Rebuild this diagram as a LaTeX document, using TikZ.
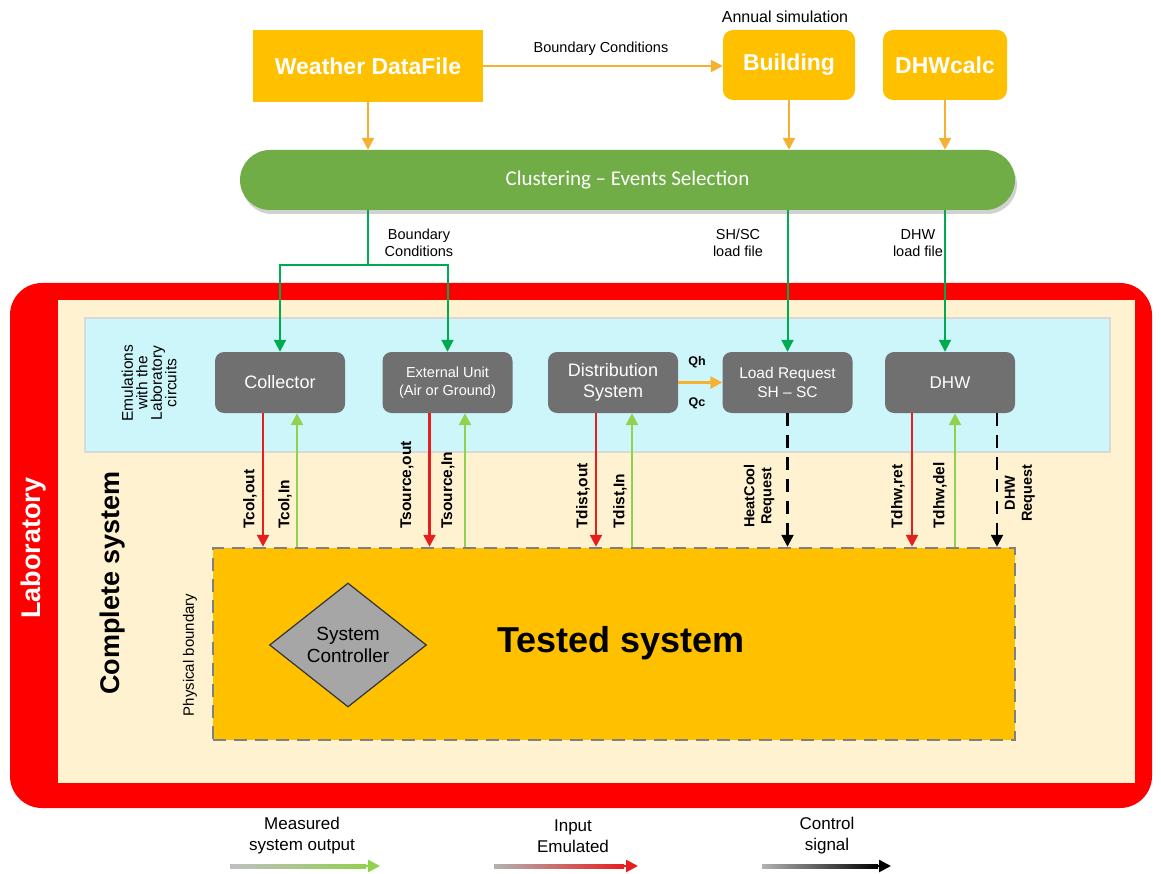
\documentclass[tikz,border=0pt]{standalone}
\usepackage{fontspec}
\setmainfont{Liberation Sans}
\newfontfamily\calib{Carlito}
\usetikzlibrary{arrows.meta,shapes.geometric,calc}
\definecolor{amber}{RGB}{255,192,0}
\definecolor{amberarr}{RGB}{245,178,50}
\definecolor{clgreen}{RGB}{112,173,71}
\definecolor{dgreen}{RGB}{0,170,80}
\definecolor{lgreen}{RGB}{146,208,80}
\definecolor{labred}{RGB}{255,0,0}
\definecolor{arrred}{RGB}{230,30,30}
\definecolor{cream}{RGB}{255,242,208}
\definecolor{lblue}{RGB}{204,246,250}
\definecolor{boxgrey}{RGB}{112,112,112}
\definecolor{ctrlgrey}{RGB}{166,166,166}
\newcommand{\fs}[2]{\fontsize{#1}{#2}\selectfont}
\tikzset{
  arrtip/.style={-{Triangle[length=12pt,width=12pt]}},
  topbox/.style={fill=amber, text=white, font=\bfseries\fontsize{23}{26}\selectfont, align=center, inner sep=0pt},
  gbox/.style={fill=boxgrey, rounded corners=9, minimum width=130, minimum height=61, text=white, align=center, inner sep=0pt},
  orarr/.style={arrtip, draw=amberarr, line width=2.5},
  garr/.style={arrtip, draw=dgreen, line width=2},
  redarr/.style={arrtip, draw=arrred, line width=2.5},
  lgarr/.style={arrtip, draw=lgreen, line width=2.5},
  ctlarr/.style={arrtip, draw=black, line width=2.5, dash pattern=on 13pt off 9pt},
  rlab/.style={rotate=90, anchor=west, font=\bfseries\fontsize{15.5}{17}\selectfont, inner sep=0pt},
  smallt/.style={font=\fontsize{14.5}{17}\selectfont, align=center}
}
\begin{document}
\begin{tikzpicture}[x=1pt,y=-1pt]
\useasboundingbox[fill=white] (0,0) rectangle (1161,874);

% top boxes
\node[topbox, minimum width=230, minimum height=72] (weather) at (368,66) {Weather DataFile};
\node[topbox, rounded corners=10, minimum width=132, minimum height=70] (building) at (789,65) {Building};
\node[topbox, rounded corners=10, minimum width=124, minimum height=70] (dhwcalc) at (945,65) {DHWcalc};
\node[font=\fs{16}{19}] (annual) at (785,17) {Annual simulation};
\draw[orarr] (weather.east) -- (weather.east -| building.west);
\node[smallt] (bclab) at (601,49) {Boundary Conditions};

% clustering
\fill[black!18, rounded corners=30] (242,155) rectangle (1017,214);
\node[fill=clgreen, rounded corners=30, minimum width=775, minimum height=60, text=white, font=\calib\fs{21}{24}] (cl) at (627.5,180) {Clustering – Events Selection};
\draw[orarr] (weather.south) -- (weather.south |- cl.north);
\draw[orarr] (building.south) -- (building.south |- cl.north);
\draw[orarr] (dhwcalc.south) -- (dhwcalc.south |- cl.north);

% laboratory frame
\fill[labred, rounded corners=32] (10,283) rectangle (1152,808);
\fill[cream] (58,300) rectangle (1135,783);
\draw[fill=lblue, draw=black!15, line width=1.5] (85,318) rectangle (1110,452);
\node[rotate=90, text=white, font=\bfseries\fs{27}{30}] (lab) at (34,548) {Laboratory};
\node[rotate=90, font=\bfseries\fs{27}{30}] (complete) at (113,583) {Complete system};
\node[rotate=90, align=center, font=\fs{15.5}{14.5}] (emul) at (149,383) {Emulations\\with the\\Laboratory\\circuits};

% grey boxes
\node[gbox, font=\fs{18}{21}] (col) at (280,382.5) {Collector};
\node[gbox, font=\fs{14.5}{18}] (ext) at (447.5,382.5) {External Unit\\(Air or Ground)};
\node[gbox, font=\fs{18}{21}] (dist) at (613,382.5) {Distribution\\System};
\node[gbox, font=\fs{15.5}{19}] (load) at (787.5,382.5) {Load Request\\SH – SC};
\node[gbox, font=\fs{17}{20}] (dhw) at (950,382.5) {DHW};

\draw[orarr] (dist.east) -- (load.west);
\node[font=\bfseries\fs{12.5}{14}] (qh) at (697,362) {Qh};
\node[font=\bfseries\fs{12.5}{14}] (qc) at (697,403) {Qc};

% green connections from clustering
\coordinate (bc) at (weather.south |- 0,265);
\draw[dgreen, line width=2] (bc |- cl.south) -- (bc);
\draw[garr] (bc) -| (col.north);
\draw[garr] (bc) -| (ext.north);
\draw[garr] (load.north |- cl.south) -- (load.north);
\draw[garr] (dhwcalc.south |- cl.south) -- (dhwcalc.south |- dhw.north);
\node[smallt] (bclab2) at (419,243) {Boundary\\Conditions};
\node[smallt] (shlab) at (738,243) {SH/SC\\load file};
\node[smallt] (dhwlab) at (918,243) {DHW\\load file};

% tested system
\node[fill=amber, draw=gray, line width=2.5, dash pattern=on 13pt off 8pt, minimum width=802, minimum height=192, inner sep=0pt] (ts) at (614,644) {};
\node[font=\bfseries\fs{36}{40}] (tstext) at (621,643) {Tested system};
\node[diamond, fill=ctrlgrey, draw=black!80, line width=1.2, minimum width=157, minimum height=124, inner sep=0pt, align=center, font=\fs{19}{22}] (ctrl) at (348,645) {System\\Controller};
\node[rotate=90, font=\fs{15}{17}] (phys) at (190,655) {Physical boundary};

% emulated / measured arrows
\path (col.south) ++(-17,0) coordinate (colR) ++(34,0) coordinate (colG);
\path (ext.south) ++(-18,0) coordinate (extR) ++(35.5,0) coordinate (extG);
\path (dist.south) ++(-17,0) coordinate (distR) ++(36,0) coordinate (distG);
\path (dhw.south) ++(-38,0) coordinate (dhwR) ++(43,0) coordinate (dhwG) ++(42,0) coordinate (dhwK);
\draw[redarr] (colR) -- (colR |- ts.north);
\draw[lgarr] (colG |- ts.north) -- (colG);
\draw[redarr] (extR) -- (extR |- ts.north);
\draw[lgarr] (extG |- ts.north) -- (extG);
\draw[redarr] (distR) -- (distR |- ts.north);
\draw[lgarr] (distG |- ts.north) -- (distG);
\draw[ctlarr] (load.south) -- (load.south |- ts.north);
\draw[redarr] (dhwR) -- (dhwR |- ts.north);
\draw[lgarr] (dhwG |- ts.north) -- (dhwG);
\draw[ctlarr] (dhwK) -- (dhwK |- ts.north);

\node[rlab] (l1) at (250,529) {Tcol,out};
\node[rlab] (l2) at (285,529) {Tcol,In};
\node[rlab] (l3) at (407,529) {Tsource,out};
\node[rlab] (l4) at (448,529) {Tsource,In};
\node[rlab] (l5) at (583,529) {Tdist,out};
\node[rlab] (l6) at (620,529) {Tdist,In};
\node[rlab] (l7) at (898,529) {Tdhw,ret};
\node[rlab] (l8) at (940,529) {Tdhw,del};
\node[rotate=90, align=center, font=\bfseries\fs{14.5}{17}] (l9) at (759,496) {HeatCool\\Request};
\node[rotate=90, align=center, font=\bfseries\fs{14.5}{17}] (l10) at (1020,493) {DHW\\Request};

% legend
\node[align=center, font=\fs{17}{21}] (leg1) at (302,836) {Measured\\system output};
\node[align=center, font=\fs{17}{21}] (leg2) at (573,836) {Input\\Emulated};
\node[align=center, font=\fs{17}{21}] (leg3) at (827,836) {Control\\signal};
\coordinate (g1) at (230,866); \coordinate (g2) at (366,866);
\coordinate (r1) at (494,866); \coordinate (r2) at (624,866);
\coordinate (k1) at (762,866); \coordinate (k2) at (878,866);
\shade[left color=black!25, right color=lgreen] ($(g1)+(0,-2)$) rectangle ($(g2)+(0,2)$);
\shade[left color=black!30, right color=arrred] ($(r1)+(0,-2)$) rectangle ($(r2)+(0,2)$);
\shade[left color=black!30, right color=black] ($(k1)+(0,-2)$) rectangle ($(k2)+(0,2)$);
\draw[lgarr] (g2) -- ++(14,0);
\draw[redarr] (r2) -- ++(14,0);
\draw[arrtip, line width=2.5] (k2) -- ++(13,0);
\end{tikzpicture}
\end{document}
